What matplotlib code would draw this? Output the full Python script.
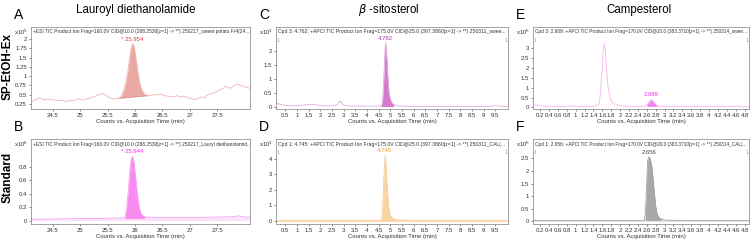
import matplotlib
matplotlib.use("Agg")
import matplotlib.pyplot as plt
import numpy as np

plt.rcParams['font.family'] = ['Liberation Sans', 'DejaVu Sans']

# ---------------- data ----------------
tA = [24.10, 24.18, 24.25, 24.34, 24.42, 24.49, 24.55, 24.61, 24.68, 24.74, 24.80, 24.86, 24.92, 24.98,
      25.04, 25.10, 25.16, 25.22, 25.28, 25.34, 25.40, 25.45, 25.52, 25.58, 25.64, 25.70, 25.75, 25.79,
      25.83, 25.87, 25.90, 25.93, 25.954, 25.98, 26.01, 26.05, 26.09, 26.13, 26.18, 26.23, 26.28, 26.34,
      26.40, 26.46, 26.52, 26.59, 26.65, 26.71, 26.77, 26.83, 26.89, 26.95, 27.01, 27.07, 27.13, 27.18,
      27.22, 27.27, 27.31, 27.37, 27.43, 27.49, 27.55, 27.60, 27.65, 27.70, 27.74, 27.80, 27.85, 27.89,
      27.94, 27.98, 28.03, 28.10]
yA = [0.30, 0.36, 0.41, 0.36, 0.38, 0.36, 0.35, 0.33, 0.34, 0.31, 0.34, 0.33, 0.36, 0.39,
      0.35, 0.37, 0.40, 0.43, 0.46, 0.50, 0.53, 0.50, 0.43, 0.39, 0.38, 0.40, 0.47, 0.60,
      0.82, 1.15, 1.48, 1.78, 1.88, 1.82, 1.55, 1.12, 0.78, 0.60, 0.50, 0.47, 0.47, 0.50,
      0.49, 0.52, 0.48, 0.46, 0.44, 0.45, 0.47, 0.43, 0.46, 0.42, 0.40, 0.37, 0.38, 0.42,
      0.44, 0.41, 0.48, 0.52, 0.54, 0.58, 0.63, 0.66, 0.72, 0.70, 0.67, 0.73, 0.78, 0.77,
      0.74, 0.72, 0.70, 0.67]

tB = [24.10, 24.5, 25.0, 25.5, 25.75, 25.82, 25.85, 25.88, 25.91, 25.93, 25.955, 25.98, 26.01,
      26.04, 26.07, 26.10, 26.13, 26.17, 26.22, 26.5, 27.0, 27.3, 27.6, 27.8, 27.9, 28.0, 28.1]
yB = [0.02, 0.025, 0.03, 0.035, 0.04, 0.05, 0.2, 0.48, 0.78, 0.91, 0.95, 0.86, 0.64,
      0.40, 0.22, 0.12, 0.08, 0.06, 0.05, 0.045, 0.045, 0.05, 0.055, 0.06, 0.07, 0.055, 0.05]

tC = [0.10, 0.2, 0.35, 0.5, 0.7, 0.9, 1.1, 1.3, 1.5, 1.65, 1.8, 2.0, 2.2, 2.4, 2.6, 2.75, 2.82,
      2.87, 2.93, 3.0, 3.2, 3.5, 3.8, 4.1, 4.4, 4.6, 4.66, 4.70, 4.74, 4.77, 4.80, 4.83, 4.87,
      4.91, 4.95, 5.0, 5.06, 5.15, 5.3, 5.5, 6.0, 6.5, 7.0, 7.5, 8.0, 8.5, 9.0, 9.3, 9.5, 9.7, 10.05]
yC = [0.16, 0.13, 0.09, 0.07, 0.06, 0.05, 0.06, 0.08, 0.10, 0.11, 0.09, 0.06, 0.05, 0.05, 0.06,
      0.10, 0.20, 0.23, 0.15, 0.08, 0.05, 0.04, 0.04, 0.04, 0.04, 0.05, 0.15, 0.60, 1.40, 2.00,
      2.30, 2.10, 1.50, 0.90, 0.50, 0.30, 0.18, 0.10, 0.06, 0.04, 0.03, 0.03, 0.03, 0.03, 0.03,
      0.03, 0.03, 0.04, 0.06, 0.04, 0.03]

tD = [0.10, 0.5, 1.0, 2.0, 3.0, 4.0, 4.55, 4.63, 4.67, 4.71, 4.75, 4.78, 4.81, 4.85, 4.89,
      4.93, 4.97, 5.02, 5.1, 5.2, 5.4, 6.0, 7.0, 8.0, 9.0, 10.05]
yD = [0.02, 0.02, 0.02, 0.02, 0.02, 0.02, 0.03, 0.10, 0.80, 2.20, 3.60, 4.25, 3.70, 2.60, 1.60,
      0.90, 0.50, 0.30, 0.15, 0.08, 0.05, 0.03, 0.02, 0.02, 0.02, 0.02]

tE = [0.04, 0.1, 0.2, 0.3, 0.5, 0.7, 0.9, 1.1, 1.3, 1.45, 1.52, 1.56, 1.59, 1.62, 1.645, 1.67,
      1.70, 1.73, 1.77, 1.82, 1.9, 2.0, 2.2, 2.4, 2.55, 2.6, 2.65, 2.70, 2.74, 2.78, 2.83, 2.9,
      3.1, 3.4, 3.8, 4.2, 4.5, 4.6, 4.7, 4.9]
yE = [0.10, 0.13, 0.08, 0.06, 0.05, 0.05, 0.06, 0.05, 0.05, 0.06, 0.15, 0.70, 1.80, 2.90, 3.25,
      2.80, 1.80, 1.00, 0.50, 0.28, 0.15, 0.08, 0.05, 0.05, 0.06, 0.12, 0.28, 0.40, 0.33, 0.20,
      0.10, 0.05, 0.04, 0.04, 0.04, 0.04, 0.05, 0.07, 0.04, 0.03]

tF = [0.04, 0.5, 1.0, 1.5, 2.0, 2.4, 2.54, 2.57, 2.60, 2.62, 2.64, 2.66, 2.68, 2.71, 2.74,
      2.77, 2.80, 2.83, 2.87, 2.92, 2.97, 3.05, 3.5, 4.0, 4.5, 4.9]
yF = [0.03, 0.03, 0.03, 0.03, 0.03, 0.03, 0.03, 0.30, 1.60, 2.40, 2.55, 2.55, 2.45, 2.20, 1.70,
      1.10, 0.60, 0.30, 0.15, 0.10, 0.06, 0.04, 0.03, 0.03, 0.03, 0.03]

titles = ["Lauroyl diethanolamide", r"$\beta$ -sitosterol", "Campesterol"]
row_labels = ["SP-EtOH-Ex", "Standard"]
headers = {
    "A": "+ESI TIC Product Ion Frag=160.0V CID@10.0 (288.2530[z=1] -> **) 250217_sweet potato Fr4(24...",
    "B": "+ESI TIC Product Ion Frag=160.0V CID@10.0 (288.2530[z=1] -> **) 250217_Lauryl diethanolamid...",
    "C": "Cpd 3: 4.762: +APCI TIC Product Ion Frag=175.0V CID@25.0 (397.3860[z=1] -> **) 250311_swee...",
    "D": "Cpd 1: 4.745: +APCI TIC Product Ion Frag=175.0V CID@25.0 (397.3860[z=1] -> **) 250311_CAL(...",
    "E": "Cpd 3: 2.689: +APCI TIC Product Ion Frag=170.0V CID@20.0 (383.3710[z=1] -> **) 250314_swee...",
    "F": "Cpd 1: 2.656: +APCI TIC Product Ion Frag=170.0V CID@20.0 (383.3710[z=1] -> **) 250314_CAL(...",
}
peak_labels = {"A": "* 25.954", "B": "* 25.944", "C": "4.762", "D": "4.745", "E": "2.689", "F": "2.656"}
peak_pos = {"A": (25.954, 1.88), "B": (25.944, 0.95), "C": (4.77, 2.30), "D": (4.75, 4.25),
            "E": (2.70, 0.40), "F": (2.656, 2.55)}
exponents = {"A": 5, "B": 6, "C": 5, "D": 5, "E": 5, "F": 5}

xticksAB = [24.5, 25, 25.5, 26, 26.5, 27, 27.5]
xticksCD = [0.5, 1, 1.5, 2, 2.5, 3, 3.5, 4, 4.5, 5, 5.5, 6, 6.5, 7, 7.5, 8, 8.5, 9, 9.5]
xticksEF = [0.2, 0.4, 0.6, 0.8, 1, 1.2, 1.4, 1.6, 1.8, 2, 2.2, 2.4, 2.6, 2.8, 3, 3.2, 3.4, 3.6, 3.8,
            4, 4.2, 4.4, 4.6, 4.8]
yticks = {"A": [0.25, 0.5, 0.75, 1, 1.25, 1.5, 1.75, 2], "B": [0, 0.2, 0.4, 0.6, 0.8],
          "C": [0, 0.5, 1, 1.5, 2], "D": [0, 1, 2, 3, 4], "E": [0, 0.5, 1, 1.5, 2, 2.5, 3],
          "F": [0, 0.5, 1, 1.5, 2, 2.5]}

# ---------------- layout ----------------
W, H = 755, 241
fig = plt.figure(figsize=(W / 100, H / 100), dpi=100)
renderer = fig.canvas.get_renderer()

def ax_px(x0, x1, ytop, ybot):
    return fig.add_axes([x0 / W, 1 - ybot / H, (x1 - x0) / W, (ybot - ytop) / H])

cols = [(31, 250), (276, 508), (533, 749)]
rows = [(27, 109), (139, 224)]
panels = [["A", "C", "E"], ["B", "D", "F"]]

cfg = {
    "A": dict(t=tA, y=yA, xlim=(24.10, 28.10), ylim=(0.11, 2.33), xt=xticksAB,
              line="#f2b4b4", fill="#eaaaa4", lab="#e03a3a"),
    "B": dict(t=tB, y=yB, xlim=(24.10, 28.10), ylim=(-0.05, 1.21), xt=xticksAB,
              line="#f7a0f3", fill="#f68cf0", lab="#f030e8"),
    "C": dict(t=tC, y=yC, xlim=(0.10, 10.05), ylim=(-0.06, 2.87), xt=xticksCD,
              line="#e2aade", fill="#d27ccb", lab="#a8309c"),
    "D": dict(t=tD, y=yD, xlim=(0.10, 10.05), ylim=(-0.22, 5.3), xt=xticksCD,
              line="#f8cc98", fill="#fbd4a4", lab="#f09a30"),
    "E": dict(t=tE, y=yE, xlim=(0.04, 4.90), ylim=(-0.08, 4.07), xt=xticksEF,
              line="#f6b4f4", fill="#f386ef", lab="#f030f0"),
    "F": dict(t=tF, y=yF, xlim=(0.04, 4.90), ylim=(-0.11, 3.27), xt=xticksEF,
              line="#a0a0a0", fill="#a9a9a9", lab="#404040"),
}

fs = 4.3
for r, (yt, yb) in enumerate(rows):
    for c, (x0, x1) in enumerate(cols):
        key = panels[r][c]
        p = cfg[key]
        ax = ax_px(x0, x1, yt, yb)
        t = np.array(p["t"]); y = np.array(p["y"])
        ax.plot(t, y, color=p["line"], lw=0.6)
        if key == "A":
            m = (t >= 25.66) & (t <= 26.25)
            base = np.interp(t[m], [t[m][0], t[m][-1]], [y[m][0], y[m][-1]])
            ax.fill_between(t[m], base, y[m], color=p["fill"], lw=0)
            ax.plot([t[m][0], t[m][-1]], [y[m][0], y[m][-1]], color="#d98a84", lw=0.4)
        elif key == "B":
            ax.fill_between(t, 0, y, color="#fbe2fa", lw=0)
            m = (t >= 25.80) & (t <= 26.20)
            ax.fill_between(t[m], 0.03, y[m], color=p["fill"], lw=0)
        elif key == "C":
            m = (t >= 4.58) & (t <= 5.2)
            ax.fill_between(t[m], 0.03, y[m], color=p["fill"], lw=0)
        elif key == "D":
            ax.fill_between(t, -0.05, y, color=p["fill"], lw=0)
        elif key == "E":
            m = (t >= 2.58) & (t <= 2.86)
            ax.fill_between(t[m], 0.05, y[m], color=p["fill"], lw=0)
        elif key == "F":
            ax.fill_between(t, 0, y, color="#dcdcdc", lw=0)
            m = (t >= 2.55) & (t <= 2.95)
            ax.fill_between(t[m], 0.03, y[m], color=p["fill"], lw=0)

        ax.set_xlim(*p["xlim"]); ax.set_ylim(*p["ylim"])
        ax.set_xticks(p["xt"])
        ax.set_xticklabels(["%g" % v for v in p["xt"]])
        ax.set_yticks(yticks[key])
        ax.set_yticklabels(["%g" % v for v in yticks[key]])
        ax.tick_params(labelsize=fs, length=1.5, width=0.4, pad=1.5, colors="#333333")
        for s in ax.spines.values():
            s.set_linewidth(0.5); s.set_color("#808080")
        ax.set_xlabel("Counts vs. Acquisition Time (min)", fontsize=fs, labelpad=0.5, color="#333333")
        ht = ax.text(0.008, 0.94, headers[key], transform=ax.transAxes, fontsize=fs, va="center",
                     ha="left", color="#333333")
        # shrink header so it fits inside the axes
        avail = (x1 - x0) * 0.985
        wpx = ht.get_window_extent(renderer=renderer).width
        if wpx > avail:
            ht.set_fontsize(fs * avail / wpx)
        ax.text(-0.012, 0.94, r"x10$^{%d}$" % exponents[key], transform=ax.transAxes,
                fontsize=fs, va="center", ha="right", color="#333333")
        if key in ("C", "D", "E", "F"):
            ax.text(0.004, 0.84, "1", transform=ax.transAxes, fontsize=fs - 0.5, color="#999999",
                    va="center", ha="left")
            ax.text(0.996, 0.84, "1", transform=ax.transAxes, fontsize=fs - 0.5, color="#999999",
                    va="center", ha="right")
        px, py = peak_pos[key]
        ax.annotate(peak_labels[key], (px, py), xytext=(0, 1.5), textcoords="offset points",
                    ha="center", va="bottom", fontsize=fs, color=p["lab"])

        # panel letter
        fig.text((x0 - 17) / W, 1 - (yt - 12) / H, key, fontsize=10, ha="left", va="center")

# column titles
for ttl, cx in zip(titles, [136, 389, 639]):
    fig.text(cx / W, 1 - 10 / H, ttl, fontsize=8.3, ha="center", va="center")

# row labels
fig.text(8 / W, 1 - 67 / H, row_labels[0], rotation=90, fontsize=8.5, ha="center", va="center",
         fontweight="bold")
fig.text(8 / W, 1 - 177 / H, row_labels[1], rotation=90, fontsize=8.5, ha="center", va="center",
         fontweight="bold")

fig.savefig("out.png", dpi=100)
